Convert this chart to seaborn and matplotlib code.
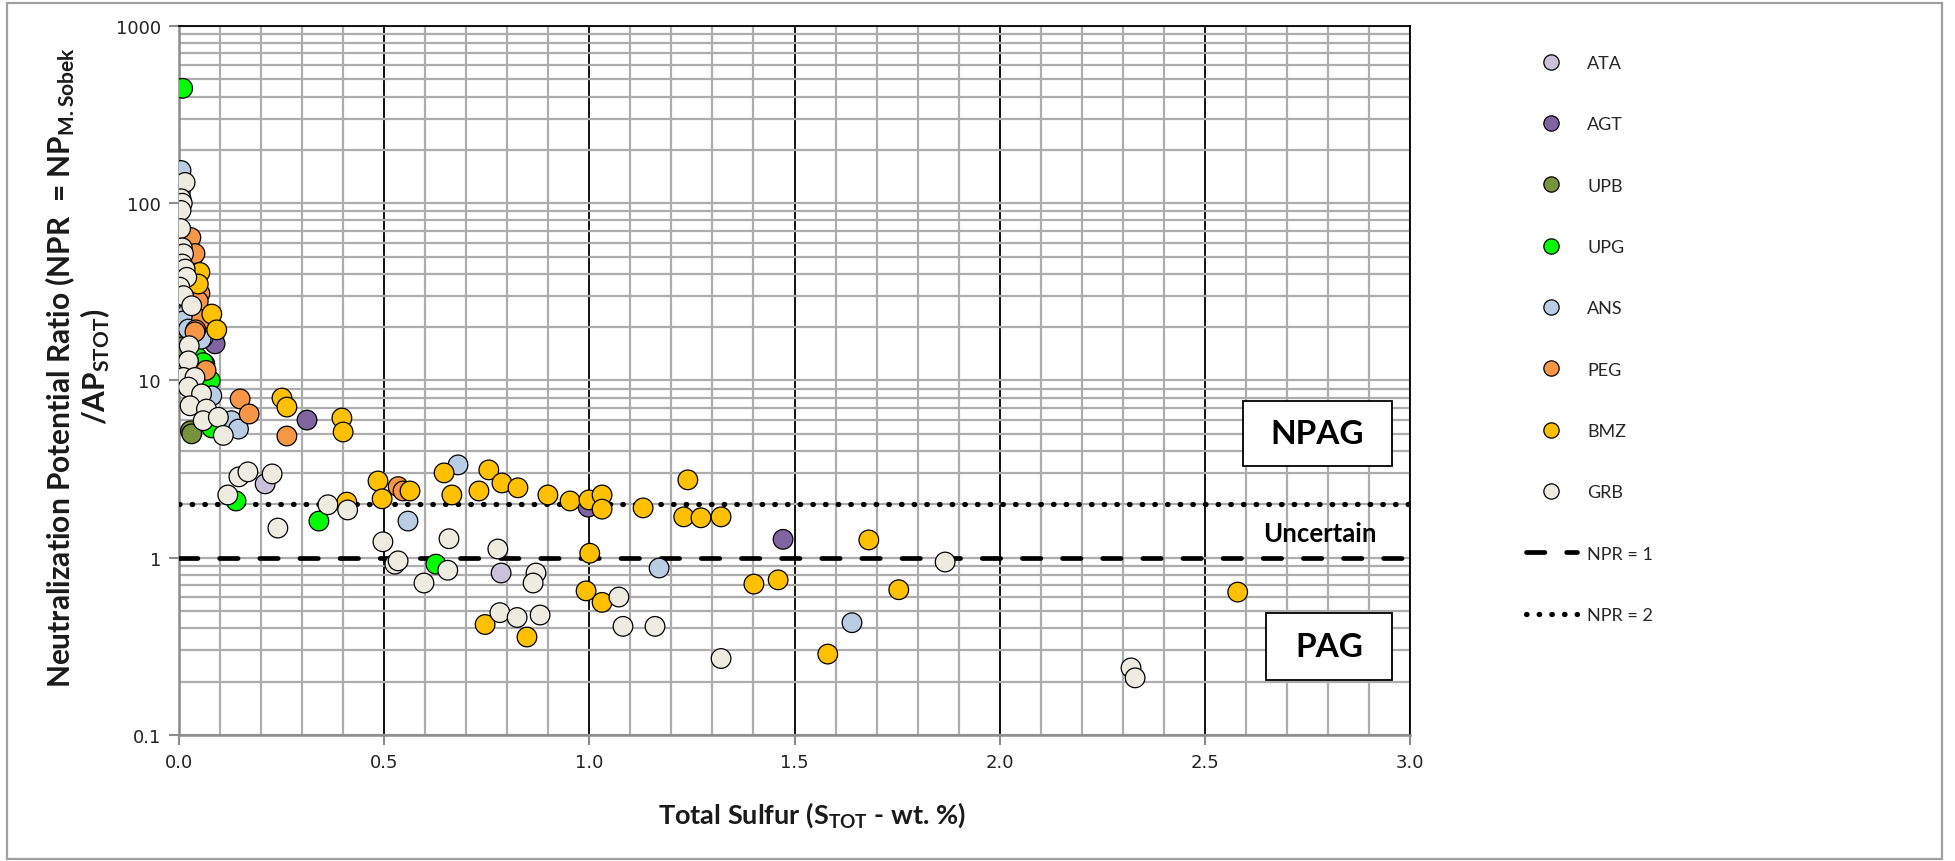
import numpy as np
import pandas as pd
import matplotlib
matplotlib.use("Agg")
import matplotlib.pyplot as plt
import seaborn as sns
from matplotlib.lines import Line2D
from matplotlib.patches import Rectangle
from matplotlib.ticker import MultipleLocator, LogLocator, FixedLocator, FixedFormatter, NullFormatter

# ---- data: total sulfur (wt.%) and NPR per lithology unit ----
units = ["ATA", "AGT", "UPB", "UPG", "ANS", "PEG", "BMZ", "GRB"]
colors = ["#CCC1DA", "#8064A2", "#77933C", "#00FF00", "#B9CDE5", "#F79646", "#FFC000", "#EEECE1"]

ata_s = [0.003, 0.012, 0.210, 0.785]
ata_npr = [115, 25, 2.61, 0.82]

agt_s = [0.085, 0.088, 0.063, 0.312, 0.997, 1.472]
agt_npr = [17.5, 16.1, 12.4, 5.98, 1.93, 1.27]

upb_s = [0.004, 0.006, 0.002, 0.003, 0.010, 0.028, 0.031]
upb_npr = [42, 30, 16.1, 14.4, 15.5, 5.2, 5.0]

upg_s = [0.009, 0.002, 0.005, 0.043, 0.059, 0.076, 0.080, 0.139, 0.341, 0.626]
upg_npr = [445, 61, 21, 13.6, 12.6, 10.0, 5.4, 2.09, 1.61, 0.92]

ans_s = [0.005, 0.019, 0.011, 0.023, 0.059, 0.054, 0.080, 0.128, 0.145, 0.680, 0.558, 1.170, 1.640]
ans_npr = [153, 23.7, 21.7, 19.5, 17.5, 17.1, 8.2, 5.93, 5.32, 3.34, 1.61, 0.875, 0.43]

peg_s = [0.029, 0.034, 0.039, 0.051, 0.047, 0.055, 0.041, 0.039, 0.066, 0.149, 0.171, 0.263, 0.534, 0.546]
peg_npr = [64, 50, 52, 31, 28, 22, 19.3, 18.8, 11.4, 7.87, 6.47, 4.86, 2.52, 2.38]

bmz_s = [0.051, 0.047, 0.080, 0.092, 0.251, 0.263, 0.397, 0.400, 0.409, 0.485, 0.495,
         0.563, 0.646, 0.665, 0.755, 0.787, 0.731, 0.826, 0.899, 0.953, 0.999, 1.031,
         1.031, 1.131, 1.240, 1.230, 1.272, 1.321, 1.681, 1.001, 0.992, 1.031, 0.746,
         0.848, 1.401, 1.460, 1.754, 1.581, 2.580]
bmz_npr = [40.7, 35, 23.7, 19.3, 7.96, 7.08, 6.14, 5.12, 2.06, 2.71, 2.15,
           2.38, 3.01, 2.26, 3.13, 2.64, 2.38, 2.48, 2.26, 2.09, 2.12, 2.26,
           1.88, 1.91, 2.75, 1.70, 1.68, 1.70, 1.26, 1.06, 0.65, 0.56, 0.42,
           0.357, 0.71, 0.75, 0.66, 0.286, 0.64]

grb_s = [0.015, 0.005, 0.008, 0.005, 0.004, 0.008, 0.011, 0.008, 0.015, 0.019, 0.002,
         0.011, 0.031, 0.025, 0.023, 0.011, 0.039, 0.023, 0.055, 0.027, 0.067, 0.059,
         0.096, 0.108, 0.119, 0.146, 0.168, 0.227, 0.241, 0.363, 0.411, 0.497, 0.526,
         0.534, 0.597, 0.655, 0.658, 0.777, 0.870, 0.863, 0.782, 0.824, 0.880, 1.072,
         1.082, 1.160, 1.321, 1.867, 2.320, 2.330]
grb_npr = [131, 106, 100, 91, 72, 56, 51.8, 45.4, 42.5, 38.2, 33.6,
           30.1, 26.4, 15.7, 12.9, 10.4, 10.4, 9.17, 8.4, 7.2, 6.9, 5.93,
           6.2, 4.9, 2.26, 2.86, 3.05, 2.97, 1.47, 1.99, 1.86, 1.23, 0.92,
           0.96, 0.72, 0.85, 1.28, 1.12, 0.82, 0.72, 0.49, 0.46, 0.475, 0.60,
           0.41, 0.41, 0.27, 0.946, 0.239, 0.21]

series_s = [ata_s, agt_s, upb_s, upg_s, ans_s, peg_s, bmz_s, grb_s]
series_npr = [ata_npr, agt_npr, upb_npr, upg_npr, ans_npr, peg_npr, bmz_npr, grb_npr]

x_ticks = [0.0, 0.5, 1.0, 1.5, 2.0, 2.5, 3.0]
x_ticklabels = ["0.0", "0.5", "1.0", "1.5", "2.0", "2.5", "3.0"]
y_ticks = [0.1, 1, 10, 100, 1000]
y_ticklabels = ["0.1", "1", "10", "100", "1000"]

df = pd.concat(
    [pd.DataFrame({"S": s, "NPR": n, "Unit": u}) for u, s, n in zip(units, series_s, series_npr)],
    ignore_index=True,
)
palette = dict(zip(units, colors))

# ---- style ----
sns.set_theme(style="white")
plt.rcParams["font.family"] = ["Lato", "DejaVu Sans"]
plt.rcParams["mathtext.fontset"] = "custom"
plt.rcParams["mathtext.rm"] = "Lato:bold"
plt.rcParams["mathtext.default"] = "rm"

fig = plt.figure(figsize=(19.56, 8.62), dpi=100)
fig.patch.set_facecolor("white")
ax = fig.add_axes([0.0915, 0.1462, 0.6294, 0.8225])

sns.scatterplot(data=df, x="S", y="NPR", hue="Unit", hue_order=units, palette=palette,
                s=200, edgecolor="black", linewidth=0.9, legend=False, ax=ax, zorder=5)

ax.set_yscale("log")
ax.set_xlim(0, 3.0)
ax.set_ylim(0.1, 1000)

# grid
ax.set_axisbelow(True)
ax.xaxis.set_major_locator(FixedLocator(x_ticks))
ax.xaxis.set_major_formatter(FixedFormatter(x_ticklabels))
ax.xaxis.set_minor_locator(MultipleLocator(0.1))
ax.yaxis.set_major_locator(FixedLocator(y_ticks))
ax.yaxis.set_major_formatter(FixedFormatter(y_ticklabels))
ax.yaxis.set_minor_locator(LogLocator(base=10, subs=np.arange(2, 10)))
ax.yaxis.set_minor_formatter(NullFormatter())
ax.grid(which="major", axis="x", color="black", lw=1.3)
ax.grid(which="minor", axis="x", color="#ADADAD", lw=1.6)
ax.grid(which="both", axis="y", color="#ADADAD", lw=1.6)

for side in ["left", "bottom"]:
    ax.spines[side].set_color("#8C8C8C")
    ax.spines[side].set_linewidth(1.8)
for side in ["top", "right"]:
    ax.spines[side].set_color("black")
    ax.spines[side].set_linewidth(1.3)

ax.tick_params(which="major", direction="out", length=7, width=1.5, color="#8C8C8C",
               labelsize=13, labelcolor="#222222", pad=6)
ax.tick_params(which="minor", length=0)
ax.tick_params(axis="y", left=True)
ax.tick_params(axis="x", bottom=True)
for lab in ax.get_xticklabels() + ax.get_yticklabels():
    lab.set_family(["DejaVu Sans"])

# NPR reference lines
npr1_style = dict(color="black", lw=3.4, dashes=(3.9, 4.6), dash_capstyle="round")
npr2_style = dict(color="black", lw=3.8, dashes=(0.1, 2.3), dash_capstyle="round")
ax.axhline(1, zorder=3, **npr1_style)
ax.axhline(2, zorder=3, **npr2_style)

ax.set_xlabel("")
ax.set_ylabel("")

# zone boxes
for (x0, y0, w, h, txt) in [(0.864, 0.379, 0.121, 0.092, "NPAG"), (0.883, 0.078, 0.102, 0.094, "PAG")]:
    ax.add_patch(Rectangle((x0, y0), w, h, transform=ax.transAxes, facecolor="white",
                           edgecolor="black", lw=1.3, zorder=7))
    ax.text(x0 + w / 2, y0 + h / 2, txt, transform=ax.transAxes, ha="center", va="center",
            fontsize=24, fontweight="bold", color="black", zorder=8)
ax.text(0.927, 0.285, "Uncertain", transform=ax.transAxes, ha="center", va="center",
        fontsize=18.5, fontweight="bold", color="black", zorder=8)

# axis titles
fig.text(812 / 1956, 1 - 815 / 862, r"Total Sulfur (S$_{TOT}$ - wt. %)", ha="center", va="center",
         fontsize=19.5, fontweight="bold", color="#1a1a1a")
fig.text(78 / 1956, 1 - 367 / 862,
         "Neutralization Potential Ratio (NPR  = NP$_{M.Sobek}$\n/AP$_{STOT}$)",
         ha="center", va="center", rotation=90, multialignment="center",
         fontsize=21.5, fontweight="bold", color="#1a1a1a", linespacing=1.05)

# legend
handles = [Line2D([0], [0], marker="o", linestyle="none", markersize=11, markerfacecolor=c,
                  markeredgecolor="black", markeredgewidth=0.9) for c in colors]
handles.append(Line2D([0], [0], **npr1_style))
handles.append(Line2D([0], [0], **npr2_style))
labels = units + ["NPR = 1", "NPR = 2"]
fig.legend(handles, labels, loc="upper left", bbox_to_anchor=(1526 / 1956, 1 - 56 / 862),
           frameon=False, fontsize=13, handlelength=2.8, handletextpad=0.6,
           labelspacing=2.51, borderpad=0, borderaxespad=0)

# outer frame
fig.add_artist(Rectangle((0.0036, 0.0023), 0.9892, 0.9931, transform=fig.transFigure,
                         fill=False, edgecolor="#A0A0A0", lw=1.6))

fig.savefig("out.png", dpi=100)
